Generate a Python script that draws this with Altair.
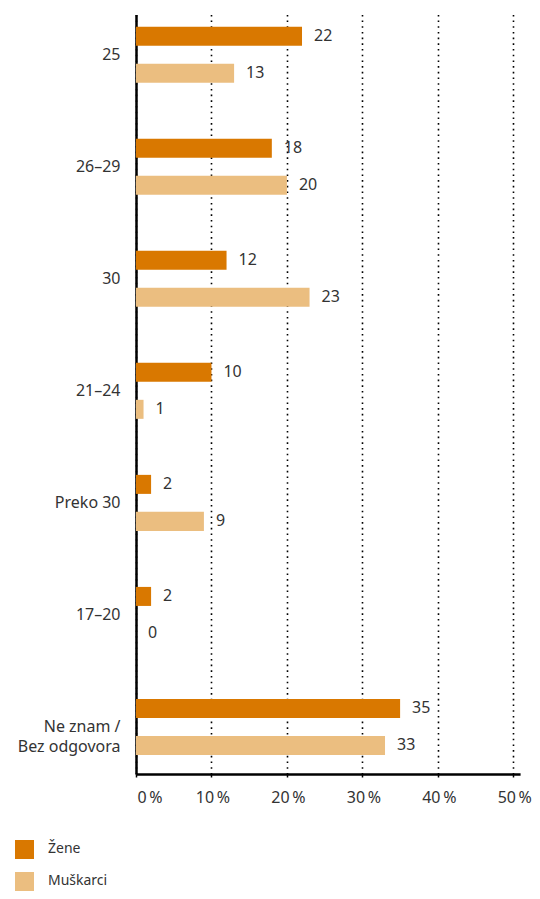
import altair as alt
import pandas as pd

categories = ["25", "26–29", "30", "21–24", "Preko 30", "17–20", "Ne znam / Bez odgovora"]
series = ["Žene", "Muškarci"]
zene = [22, 18, 12, 10, 2, 2, 35]
muskarci = [13, 20, 23, 1, 9, 0, 33]
colors = ["#D97800", "#EBBE80"]
x_ticks = [0, 10, 20, 30, 40, 50]

rows = []
for c, z, m in zip(categories, zene, muskarci):
    rows.append({"Dob": c, "Spol": series[0], "Vrijednost": z})
    rows.append({"Dob": c, "Spol": series[1], "Vrijednost": m})
df = pd.DataFrame(rows)

FONT = "Noto Sans"
TXT = "#333333"
X_MAX = 50.9
PX_PER_UNIT = 7.546

y_enc = alt.Y(
    "Dob:N",
    sort=categories,
    scale=alt.Scale(paddingInner=0.5, paddingOuter=0.139, align=0.39),
    axis=alt.Axis(
        title=None,
        domain=True,
        domainColor="black",
        domainWidth=2.5,
        ticks=False,
        grid=False,
        labelFont=FONT,
        labelFontSize=16,
        labelColor=TXT,
        labelPadding=16,
        labelLineHeight=20,
        labelExpr="datum.value == 'Ne znam / Bez odgovora' ? ['Ne znam /', 'Bez odgovora'] : datum.value",
    ),
)
yoff_enc = alt.YOffset(
    "Spol:N",
    sort=series,
    scale=alt.Scale(domain=series, paddingInner=0.486, paddingOuter=0),
)
x_enc = alt.X(
    "Vrijednost:Q",
    scale=alt.Scale(domain=[0, X_MAX], nice=False, zero=True),
    axis=alt.Axis(
        title=None,
        values=x_ticks,
        domain=True,
        domainColor="black",
        domainWidth=2.5,
        ticks=True,
        tickSize=3,
        tickColor="black",
        tickWidth=1.5,
        grid=True,
        gridColor="black",
        gridWidth=1.6,
        gridDash=[1.6, 4.1],
        labelFont=FONT,
        labelFontSize=16,
        labelColor=TXT,
        labelPadding=13,
        labelOffset=1,
        labelExpr="datum.value + '\u2009%'",
    ),
)

bars = alt.Chart(df).mark_bar().encode(
    x=x_enc,
    y=y_enc,
    yOffset=yoff_enc,
    color=alt.Color(
        "Spol:N",
        scale=alt.Scale(domain=series, range=colors),
        legend=alt.Legend(
            title=None,
            orient="none",
            legendX=-121,
            legendY=825.5,
            direction="vertical",
            symbolType="square",
            symbolSize=361,
            symbolStrokeWidth=0,
            labelFont=FONT,
            labelFontSize=14,
            labelColor=TXT,
            labelOffset=14,
            rowPadding=13,
            padding=0,
        ),
    ),
)

labels = alt.Chart(df).mark_text(
    align="left", baseline="middle", dx=12, font=FONT, fontSize=16, color=TXT
).encode(
    x=alt.X("Vrijednost:Q"),
    y=alt.Y("Dob:N", sort=categories),
    yOffset=alt.YOffset("Spol:N", sort=series),
    text=alt.Text("Vrijednost:Q"),
)

chart = (
    alt.layer(bars, labels)
    .properties(
        width=X_MAX * PX_PER_UNIT,
        height=759.5,
        autosize=alt.AutoSizeParams(type="none"),
        padding={"left": 128, "top": 6.5, "right": 11.9, "bottom": 117},
    )
    .configure_view(stroke=None)
)

chart.save("out.html", embed_options={"renderer": "svg", "actions": False})
